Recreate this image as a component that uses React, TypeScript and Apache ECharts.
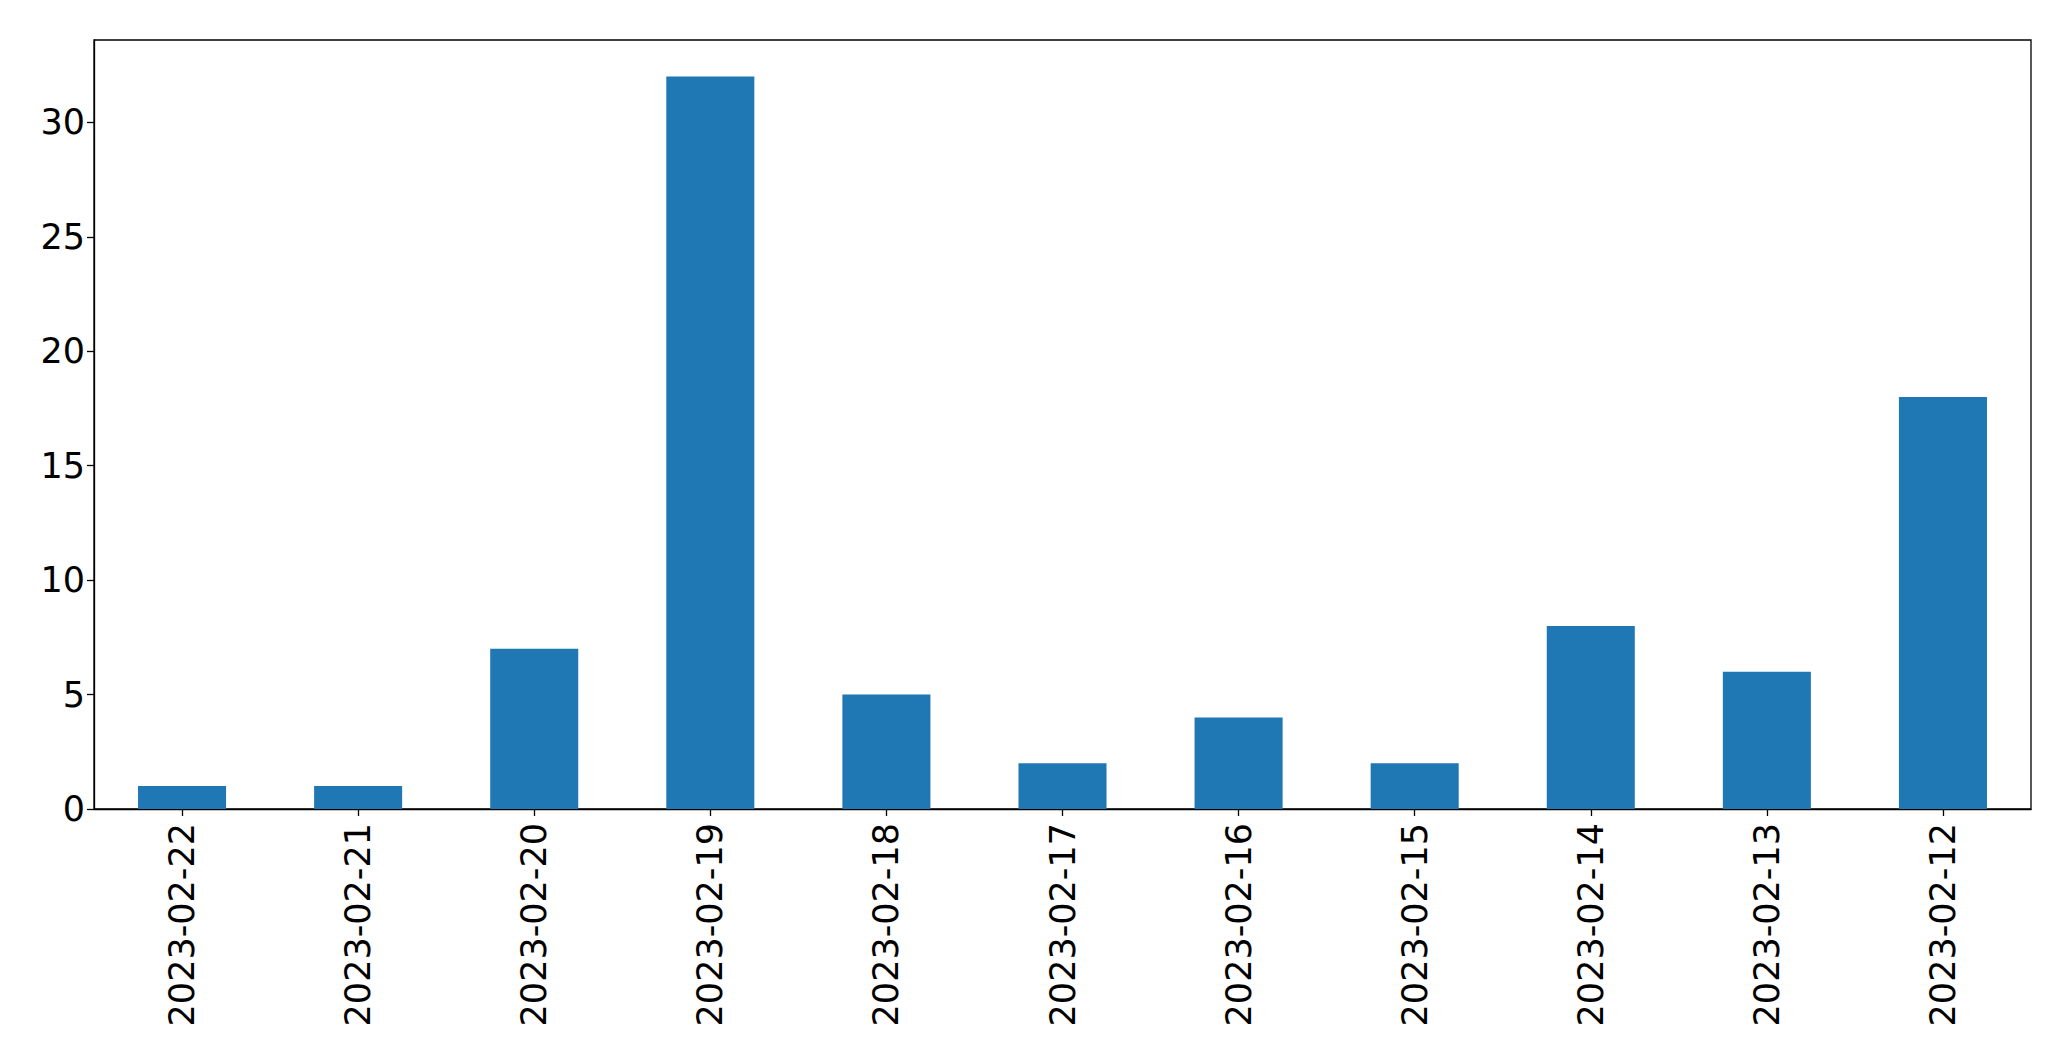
import React, { useEffect, useRef } from "react";
import * as echarts from "echarts";

const categories = [
  "2023-02-22",
  "2023-02-21",
  "2023-02-20",
  "2023-02-19",
  "2023-02-18",
  "2023-02-17",
  "2023-02-16",
  "2023-02-15",
  "2023-02-14",
  "2023-02-13",
  "2023-02-12",
];
const values = [1, 1, 7, 32, 5, 2, 4, 2, 8, 6, 18];

export default function App() {
  const ref = useRef<HTMLDivElement>(null);
  useEffect(() => {
    document.body.style.margin = "0";
    if (!ref.current) return;
    const chart = echarts.init(ref.current, undefined, { renderer: "svg" });
    chart.setOption({
      animation: false,
      backgroundColor: "#ffffff",
      grid: {
        left: 94,
        right: 40,
        top: 40,
        bottom: 252,
        show: true,
        borderColor: "#000000",
        borderWidth: 1.3,
        containLabel: false,
      },
      xAxis: {
        type: "category",
        data: categories,
        axisLine: { show: true, lineStyle: { color: "#000", width: 1.3 } },
        axisTick: {
          show: true,
          alignWithLabel: true,
          length: 7,
          lineStyle: { color: "#000", width: 1.3 },
        },
        axisLabel: {
          rotate: 90,
          interval: 0,
          margin: 14,
          color: "#000",
          fontSize: 35,
          fontFamily: "DejaVu Sans",
        },
        splitLine: { show: false },
      },
      yAxis: {
        type: "value",
        min: 0,
        max: 33.6,
        interval: 5,
        axisLine: { show: true, lineStyle: { color: "#000", width: 1.3 } },
        axisTick: { show: true, length: 7, lineStyle: { color: "#000", width: 1.3 } },
        axisLabel: {
          color: "#000",
          fontSize: 35,
          fontFamily: "DejaVu Sans",
          margin: 9,
          showMaxLabel: false,
        },
        splitLine: { show: false },
      },
      series: [
        {
          type: "bar",
          data: values,
          barWidth: "50%",
          itemStyle: { color: "#1f77b4" },
        },
      ],
    });
    return () => chart.dispose();
  }, []);
  return <div ref={ref} style={{ width: 2071, height: 1061 }} />;
}
